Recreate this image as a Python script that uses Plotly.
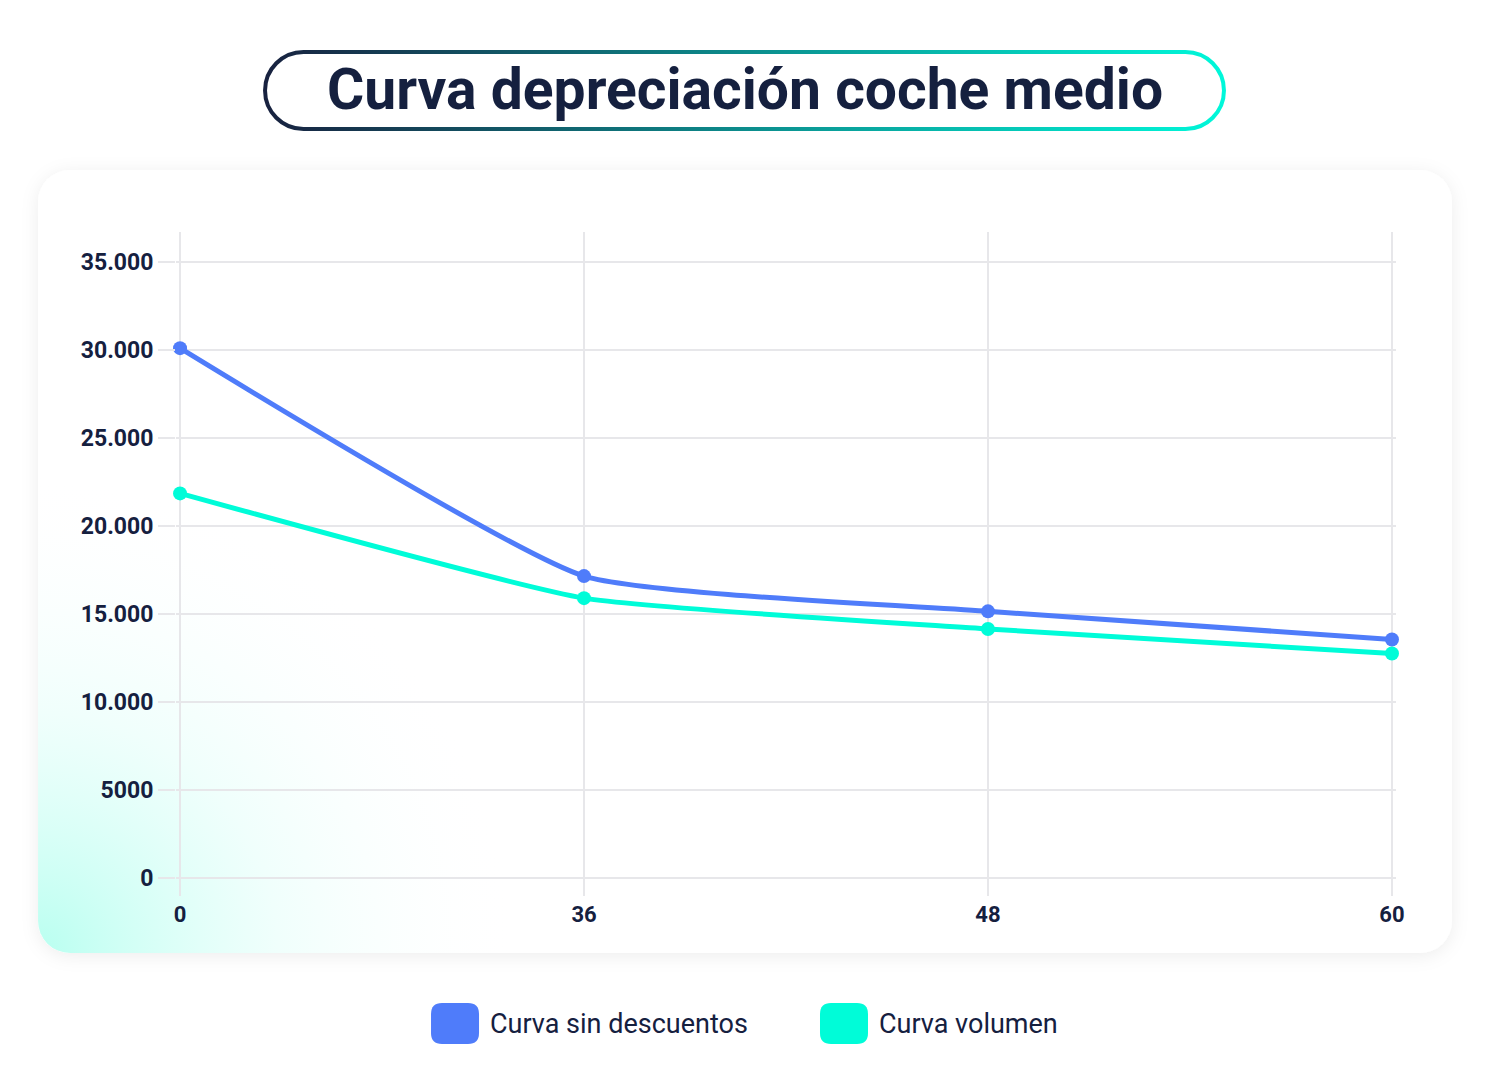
import base64
import plotly.graph_objects as go

# DATA
meses = ["0", "36", "48", "60"]
sin_descuentos = [30100, 17150, 15150, 13550]
volumen = [21850, 15900, 14150, 12750]
y_ticks = [0, 5000, 10000, 15000, 20000, 25000, 30000, 35000]
y_labels = ["0", "5000", "10.000", "15.000", "20.000", "25.000", "30.000", "35.000"]

NAVY = "#15203f"
BLUE = "#4f7cfa"
CYAN = "#00fcd8"
GRID = "#e7e7ea"

# the page body has an 8px margin, so the figure is a bit smaller than the window
OFF = 8
FW, FH = 1491 - 2 * OFF, 1080 - 2 * OFF

# plot area, in window pixels
X0, X3 = 180, 1392           # pixel of first / last category
UNIT = (X3 - X0) / 3
PAD = 0.01                   # small range padding so edge gridlines are drawn
L, R = X0 - PAD * UNIT, X3 + PAD * UNIT
T, B = 232, 878


def px_x(px):
    return (px - L) / (R - L)


def px_y(py):
    return (B - py) / (B - T)


# background card + title pill, drawn as an svg image behind the plot
svg = f"""<svg xmlns="http://www.w3.org/2000/svg" width="{FW}" height="{FH}" viewBox="{OFF} {OFF} {FW} {FH}">
<defs>
<filter id="sh" x="-10%" y="-10%" width="120%" height="120%">
<feDropShadow dx="0" dy="3" stdDeviation="9" flood-color="#000" flood-opacity="0.07"/>
</filter>
<radialGradient id="rg" gradientUnits="userSpaceOnUse" cx="38" cy="953" r="480">
<stop offset="0" stop-color="#b8fff0"/>
<stop offset="0.5" stop-color="#e6fffa" stop-opacity="0.6"/>
<stop offset="1" stop-color="#ffffff" stop-opacity="0"/>
</radialGradient>
<linearGradient id="lg" gradientUnits="userSpaceOnUse" x1="263" y1="0" x2="1226" y2="0">
<stop offset="0" stop-color="#18213f"/>
<stop offset="1" stop-color="#00f8da"/>
</linearGradient>
</defs>
<rect x="38" y="170" width="1414" height="783" rx="32" fill="#ffffff" filter="url(#sh)"/>
<rect x="38" y="170" width="1414" height="783" rx="32" fill="url(#rg)"/>
<rect x="265" y="52" width="959" height="77" rx="38.5" fill="#ffffff" stroke="url(#lg)" stroke-width="4"/>
</svg>"""
svg_uri = "data:image/svg+xml;base64," + base64.b64encode(svg.encode("utf-8")).decode("ascii")

fig = go.Figure()

fig.add_trace(go.Scatter(
    x=meses, y=sin_descuentos, mode="lines+markers", name="Curva sin descuentos",
    line=dict(color=BLUE, width=5, shape="spline", smoothing=0.45),
    marker=dict(color=BLUE, size=14), cliponaxis=False,
))
fig.add_trace(go.Scatter(
    x=meses, y=volumen, mode="lines+markers", name="Curva volumen",
    line=dict(color=CYAN, width=5, shape="spline", smoothing=0.45),
    marker=dict(color=CYAN, size=14), cliponaxis=False,
))

fig.update_layout(
    width=FW, height=FH,
    margin=dict(l=L - OFF, r=OFF + FW - R, t=T - OFF, b=OFF + FH - B, pad=0),
    paper_bgcolor="#ffffff",
    plot_bgcolor="rgba(0,0,0,0)",
    showlegend=False,
    font=dict(family="Roboto", color=NAVY),
    images=[dict(
        source=svg_uri, xref="paper", yref="paper",
        x=px_x(OFF), y=px_y(OFF), sizex=FW / (R - L), sizey=FH / (B - T),
        xanchor="left", yanchor="top", sizing="stretch", layer="below",
    )],
)

fig.update_xaxes(
    type="category", range=[-PAD, 3 + PAD],
    showgrid=True, gridcolor=GRID, gridwidth=2,
    ticks="outside", ticklen=17, tickcolor=GRID, tickwidth=2,
    showline=False, zeroline=False,
    tickfont=dict(family="Roboto", size=22, color=NAVY, weight="bold"),
)
fig.update_yaxes(
    range=[0, 36700], tickvals=y_ticks, ticktext=y_labels,
    showgrid=True, gridcolor=GRID, gridwidth=2,
    ticks="outside", ticklen=17, tickcolor=GRID, tickwidth=2,
    showline=False, zeroline=True, zerolinecolor=GRID, zerolinewidth=2,
    tickfont=dict(family="Roboto", size=23, color=NAVY, weight="bold"),
)

# title
fig.add_annotation(
    text="Curva depreciación coche medio", xref="paper", yref="paper",
    x=px_x(745), y=px_y(90), showarrow=False, xanchor="center", yanchor="middle",
    font=dict(family="Roboto", size=57, color=NAVY, weight="bold"),
)

# legend built from shapes + text
legend_items = [("Curva sin descuentos", BLUE, 431), ("Curva volumen", CYAN, 820)]
for label, color, x0 in legend_items:
    x1, y0, y1, r = x0 + 48, 1003, 1044, 11
    path = (f"M {x0 + r},{y0} L {x1 - r},{y0} Q {x1},{y0} {x1},{y0 + r} "
            f"L {x1},{y1 - r} Q {x1},{y1} {x1 - r},{y1} L {x0 + r},{y1} "
            f"Q {x0},{y1} {x0},{y1 - r} L {x0},{y0 + r} Q {x0},{y0} {x0 + r},{y0} Z")
    # convert pixel path to paper coordinates
    parts = []
    for tok in path.split():
        if "," in tok:
            a, b = tok.split(",")
            parts.append(f"{px_x(float(a))},{px_y(float(b))}")
        else:
            parts.append(tok)
    fig.add_shape(type="path", path=" ".join(parts), xref="paper", yref="paper",
                  fillcolor=color, line=dict(width=0))
    fig.add_annotation(
        text=label, xref="paper", yref="paper", x=px_x(x1 + 9), y=px_y(1024),
        showarrow=False, xanchor="left", yanchor="middle",
        font=dict(family="Roboto", size=27, color=NAVY),
    )

fig.write_html("out.html")
